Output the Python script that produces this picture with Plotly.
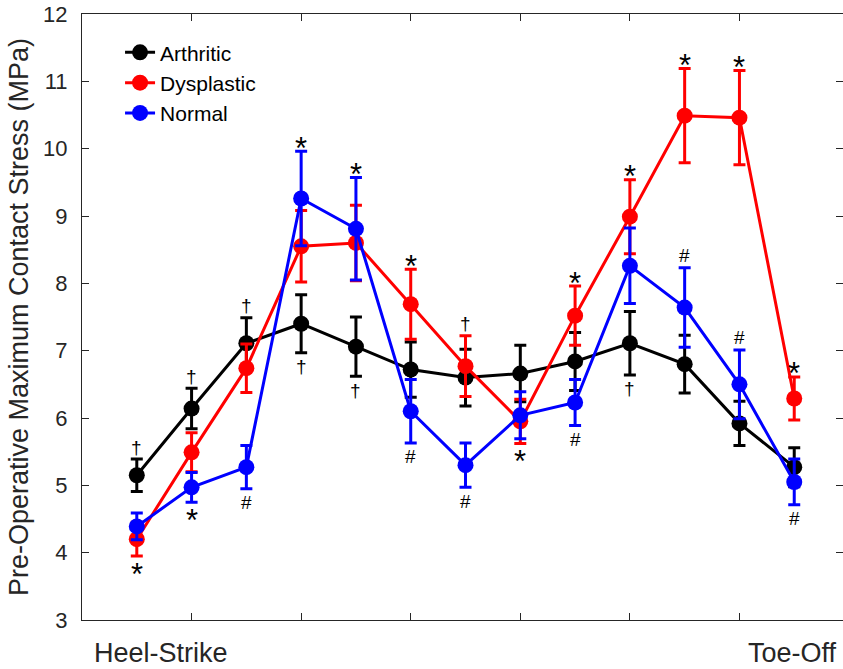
import plotly.graph_objects as go

# gait phase index (1..13), ticks every 2 phases
phase = list(range(1, 14))
tick_vals = [0, 2, 4, 6, 8, 10, 12]

arthritic = [5.15, 6.14, 7.11, 7.40, 7.06, 6.72, 6.60, 6.66, 6.84, 7.11, 6.80, 5.92, 5.27]
arthritic_err = [0.24, 0.30, 0.38, 0.43, 0.44, 0.41, 0.42, 0.42, 0.43, 0.47, 0.43, 0.33, 0.29]

dysplastic = [4.20, 5.49, 6.74, 8.55, 8.60, 7.69, 6.77, 5.95, 7.52, 8.99, 10.49, 10.46, 6.29]
dysplastic_err = [0.25, 0.29, 0.36, 0.53, 0.56, 0.52, 0.45, 0.33, 0.44, 0.55, 0.70, 0.70, 0.32]

normal = [4.39, 4.97, 5.27, 9.26, 8.81, 6.10, 5.30, 6.04, 6.23, 8.26, 7.64, 6.50, 5.05]
normal_err = [0.20, 0.22, 0.32, 0.70, 0.76, 0.47, 0.33, 0.35, 0.34, 0.56, 0.59, 0.51, 0.34]

# significance markers: (phase, symbol, group, side)
sig_marks = [
    (1, "†", "A", "above"), (1, "*", "D", "below"),
    (2, "†", "A", "above"), (2, "*", "N", "below"),
    (3, "†", "A", "above"), (3, "#", "N", "below"),
    (4, "*", "N", "above"), (4, "†", "A", "below"),
    (5, "*", "N", "above"), (5, "†", "A", "below"),
    (6, "*", "D", "above"), (6, "#", "N", "below"),
    (7, "†", "D", "above"), (7, "#", "N", "below"),
    (8, "*", "D", "below"),
    (9, "*", "D", "above"), (9, "#", "N", "below"),
    (10, "*", "D", "above"), (10, "†", "A", "below"),
    (11, "*", "D", "above"), (11, "#", "N", "above"),
    (12, "*", "D", "above"), (12, "#", "N", "above"),
    (13, "*", "D", "above"), (13, "#", "N", "below"),
]

series = [
    ("Arthritic", arthritic, arthritic_err, "#000000"),
    ("Dysplastic", dysplastic, dysplastic_err, "#FF0000"),
    ("Normal", normal, normal_err, "#0000FF"),
]
lookup = {"A": (arthritic, arthritic_err), "D": (dysplastic, dysplastic_err), "N": (normal, normal_err)}

FONT = "Liberation Sans, Arial, sans-serif"
AX = "#262626"

fig = go.Figure()
for name, vals, errs, col in series:
    fig.add_trace(go.Scatter(
        x=phase, y=vals, name=name, mode="lines+markers",
        line=dict(color=col, width=3),
        marker=dict(color=col, size=16),
        error_y=dict(type="data", array=errs, visible=True, color=col, thickness=3, width=6),
    ))

for ph, sym, grp, side in sig_marks:
    vals, errs = lookup[grp]
    i = ph - 1
    if side == "above":
        yv = vals[i] + errs[i]
        shift = 3 if sym == "*" else 12
    else:
        yv = vals[i] - errs[i]
        shift = -18 if sym == "*" else -14
    fig.add_annotation(
        x=ph, y=yv, text=sym, showarrow=False, yanchor="middle", xanchor="center",
        yshift=shift, font=dict(family=FONT, size=31 if sym == "*" else 19, color="#000000"),
    )

for txt, xp in [("Heel-Strike", 160.5), ("Toe-Off", 792.5)]:
    fig.add_annotation(
        xref="paper", yref="paper", x=(xp - 82) / 761, y=-(653 - 620) / 606,
        text=txt, showarrow=False, xanchor="center", yanchor="middle",
        font=dict(family=FONT, size=27, color=AX),
    )

fig.update_layout(
    width=843, height=669,
    margin=dict(l=82, r=0, t=14, b=49),
    paper_bgcolor="white", plot_bgcolor="white",
    font=dict(family=FONT, color=AX),
    showlegend=True,
    legend=dict(
        x=0.05, y=0.97, xanchor="left", yanchor="top",
        bgcolor="rgba(0,0,0,0)", font=dict(family=FONT, size=21, color="#000000"),
        tracegroupgap=0,
    ),
    xaxis=dict(
        range=[0, 13.89], tickvals=tick_vals, ticktext=[""] * len(tick_vals),
        showgrid=False, zeroline=False, showline=True, linecolor=AX, linewidth=1,
        mirror="ticks", ticks="inside", ticklen=7, tickcolor=AX,
    ),
    yaxis=dict(
        range=[3, 12], tickvals=list(range(3, 13)),
        showgrid=False, zeroline=False, showline=True, linecolor=AX, linewidth=1,
        mirror="ticks", ticks="inside", ticklen=7, tickcolor=AX,
        tickfont=dict(family=FONT, size=22, color=AX), ticklabelstandoff=9,
        title=dict(text="Pre-Operative Maximum Contact Stress (MPa)",
                   font=dict(family=FONT, size=27, color=AX), standoff=6),
    ),
)

fig.write_html("out.html")
